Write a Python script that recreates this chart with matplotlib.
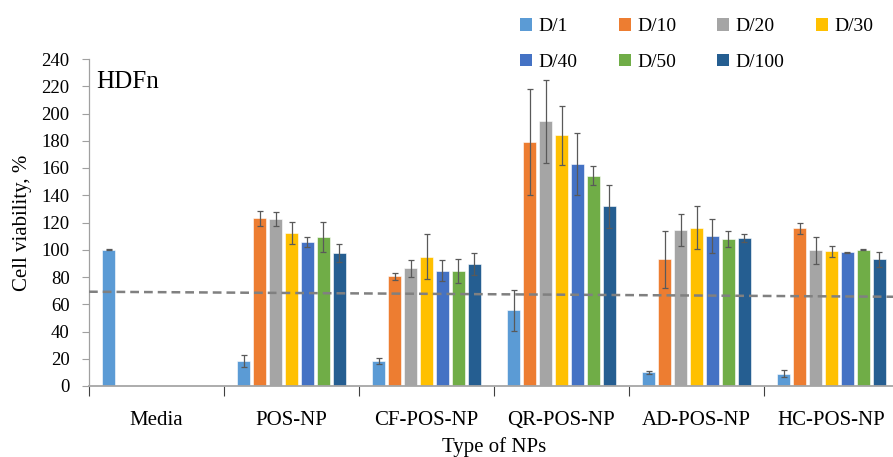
import numpy as np
import matplotlib
matplotlib.use("Agg")
import matplotlib.pyplot as plt
from matplotlib.patches import Patch

plt.rcParams["font.family"] = ["Liberation Serif", "DejaVu Serif"]

# cell viability (%) per NP type and dilution, mean and error
categories = ["Media", "POS-NP", "CF-POS-NP", "QR-POS-NP", "AD-POS-NP", "HC-POS-NP"]
dilutions = ["D/1", "D/10", "D/20", "D/30", "D/40", "D/50", "D/100"]
nan = np.nan

d1 = [100, 18.0, 18.5, 55.5, 10.0, 9.0]
d10 = [nan, 123.0, 80.5, 179.0, 93.0, 115.7]
d20 = [nan, 122.6, 86.4, 194.3, 114.5, 99.5]
d30 = [nan, 112.4, 94.9, 184.0, 116.2, 99.0]
d40 = [nan, 105.4, 84.6, 163.0, 109.8, 98.1]
d50 = [nan, 109.4, 84.6, 154.4, 107.9, 100.0]
d100 = [nan, 97.4, 89.5, 132.0, 108.4, 93.0]

d1_err = [0.3, 4.4, 2.1, 15.0, 1.3, 2.5]
d10_err = [nan, 5.3, 2.7, 39.0, 21.0, 4.0]
d20_err = [nan, 5.4, 6.3, 30.3, 11.5, 10.0]
d30_err = [nan, 8.0, 16.7, 21.7, 16.0, 4.0]
d40_err = [nan, 3.7, 7.7, 23.0, 12.5, 0.5]
d50_err = [nan, 11.3, 8.8, 7.0, 6.0, 0.5]
d100_err = [nan, 6.6, 8.0, 15.7, 2.8, 5.5]

# hand-drawn 70% viability threshold (slightly tilted)
threshold_x = [0, 5.96]
threshold_y = [69.2, 65.5]

colors = ["#5B9BD5", "#ED7D31", "#A5A5A5", "#FFC000", "#4472C4", "#70AD47", "#255E91"]

means = [d1, d10, d20, d30, d40, d50, d100]
errs = [d1_err, d10_err, d20_err, d30_err, d40_err, d50_err, d100_err]

fig = plt.figure(figsize=(8.93, 4.57), dpi=100)
ax = fig.add_axes([89 / 893, 71 / 457, 810 / 893, 327 / 457])

pitch = 0.1185
bar_w = 0.095
centers = np.arange(len(categories)) + 0.5
for j, (vals, e) in enumerate(zip(means, errs)):
    xs = centers + (j - 3) * pitch
    ax.bar(xs, vals, width=bar_w, color=colors[j], edgecolor="white", linewidth=0.4, zorder=2)
    ax.errorbar(xs, vals, yerr=e, fmt="none", ecolor="#595959", elinewidth=0.9,
                capsize=2.5, capthick=0.9, zorder=3)

ax.plot(threshold_x, threshold_y, color="#808080", linestyle=(0, (3.5, 2)), linewidth=1.8, zorder=4)

ax.set_xlim(0, 6)
ax.set_ylim(0, 240)
ax.set_yticks(np.arange(0, 241, 20))
ax.tick_params(axis="y", labelsize=13.5, length=5, color="#A0A0A0", pad=9)

ax.set_xticks(centers)
ax.set_xticklabels(categories, fontsize=15)
ax.set_xticks(np.arange(0, 7), minor=True)
ax.tick_params(axis="x", which="major", length=0, pad=18)
ax.tick_params(axis="x", which="minor", length=7, color="#404040", width=0.8)

for s in ["top", "right"]:
    ax.spines[s].set_visible(False)
ax.spines["bottom"].set_color("#A6A6A6")
ax.spines["bottom"].set_linewidth(1.3)
ax.spines["left"].set_color("#A0A0A0")
ax.spines["left"].set_linewidth(0.9)

ax.set_ylabel("Cell viability, %", fontsize=15, labelpad=7)
ax.set_xlabel("Type of NPs", fontsize=15, labelpad=5)
ax.text(0.009, 0.91, "HDFn", transform=ax.transAxes, fontsize=18, va="baseline")

# legend: 4 equally spaced columns, one small legend per column
col_left = [520, 619, 717, 816]
for c, x0 in enumerate(col_left):
    idx = [k for k in (c, c + 4) if k < len(dilutions)]
    handles = [Patch(facecolor=colors[k], edgecolor="none") for k in idx]
    fig.legend(handles, [dilutions[k] for k in idx], loc="upper left",
               bbox_to_anchor=(x0 / 893, 1 - 18 / 457), frameon=False, fontsize=14,
               handlelength=0.62, handleheight=0.62, handletextpad=0.35,
               labelspacing=0.95, borderpad=0, borderaxespad=0)

fig.savefig("out.png", dpi=100)
